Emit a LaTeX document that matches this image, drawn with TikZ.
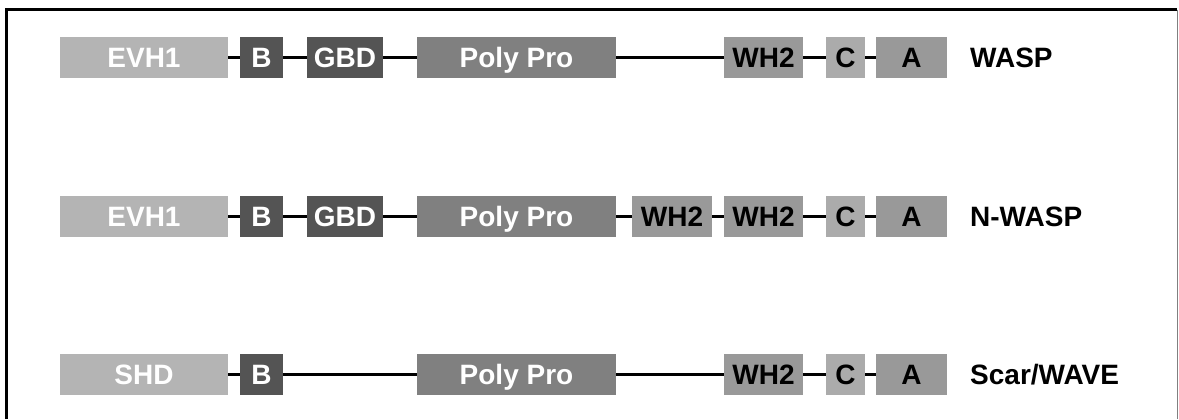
\documentclass[tikz,border=0pt]{standalone}
\usepackage{fontspec}
\setmainfont{Liberation Sans}

\definecolor{lgray}{HTML}{B4B4B4}
\definecolor{dgray}{HTML}{545454}
\definecolor{mgray}{HTML}{808080}
\definecolor{wgray}{HTML}{999999}
\definecolor{cgray}{HTML}{ABABAB}

\tikzset{
    dom/.style={rectangle, inner sep=0pt, minimum height=41bp,
        text height=20bp, text depth=0pt,
        font=\fontsize{28bp}{30bp}\selectfont\bfseries},
    prot/.style={anchor=west, inner sep=0pt, text height=20bp, text depth=0pt,
        font=\fontsize{28bp}{30bp}\selectfont\bfseries},
    link/.style={line width=3bp},
}

\newcommand{\lgn}{\node[dom, fill=lgray, text=white]}
\newcommand{\dkn}{\node[dom, fill=dgray, text=white]}
\newcommand{\mdn}{\node[dom, fill=mgray, text=white]}
\newcommand{\grn}{\node[dom, fill=wgray]}
\newcommand{\pln}{\node[dom, fill=cgray]}
\newcommand{\protn}{\node[prot]}

\begin{document}
\begin{tikzpicture}[x=1bp, y=-1bp]
        \useasboundingbox (0,0) rectangle (1179,419);

        % frame
        \draw[line width=3bp] (6.5,419) -- (6.5,9.5) -- (1177,9.5);
        \draw[gray, line width=1.2bp] (1177.5,9.5) -- (1177.5,419);

        % WASP
        \lgn[minimum width=168bp] (e1) at (144, 57.5) {EVH1};
        \dkn[minimum width=43bp] (b1) at (261.5, 57.5) {B};
        \dkn[minimum width=76bp] (g1) at (345, 57.5) {GBD};
        \mdn[minimum width=199bp] (p1) at (516.5, 57.5) {Poly Pro};
        \grn[minimum width=79bp] (w1) at (763.5, 57.5) {WH2};
        \pln[minimum width=39bp] (c1) at (845.5, 57.5) {C};
        \grn[minimum width=71bp] (a1) at (911.5, 57.5) {A};
        \protn (n1) at (970, 57.5) {WASP};

        % N-WASP
        \lgn[minimum width=168bp] (e2) at (144, 216) {EVH1};
        \dkn[minimum width=43bp] (b2) at (261.5, 216) {B};
        \dkn[minimum width=76bp] (g2) at (345, 216) {GBD};
        \mdn[minimum width=199bp] (p2) at (516.5, 216) {Poly Pro};
        \grn[minimum width=80bp] (v2) at (672, 216) {WH2};
        \grn[minimum width=79bp] (w2) at (763.5, 216) {WH2};
        \pln[minimum width=39bp] (c2) at (845.5, 216) {C};
        \grn[minimum width=71bp] (a2) at (911.5, 216) {A};
        \protn (n2) at (970, 216) {N-WASP};

        % Scar/WAVE
        \lgn[minimum width=168bp] (s3) at (144, 374) {SHD};
        \dkn[minimum width=43bp] (b3) at (261.5, 374) {B};
        \mdn[minimum width=199bp] (p3) at (516.5, 374) {Poly Pro};
        \grn[minimum width=79bp] (w3) at (763.5, 374) {WH2};
        \pln[minimum width=39bp] (c3) at (845.5, 374) {C};
        \grn[minimum width=71bp] (a3) at (911.5, 374) {A};
        \protn (n3) at (970, 374) {Scar/WAVE};

        \draw[link]
            (e1) -- (b1)
            (b1) -- (g1)
            (g1) -- (p1)
            (p1) -- (w1)
            (w1) -- (c1)
            (c1) -- (a1)
            (e2) -- (b2)
            (b2) -- (g2)
            (g2) -- (p2)
            (p2) -- (v2)
            (v2) -- (w2)
            (w2) -- (c2)
            (c2) -- (a2)
            (s3) -- (b3)
            (b3) -- (p3)
            (p3) -- (w3)
            (w3) -- (c3)
            (c3) -- (a3)
            ;
\end{tikzpicture}
\end{document}
